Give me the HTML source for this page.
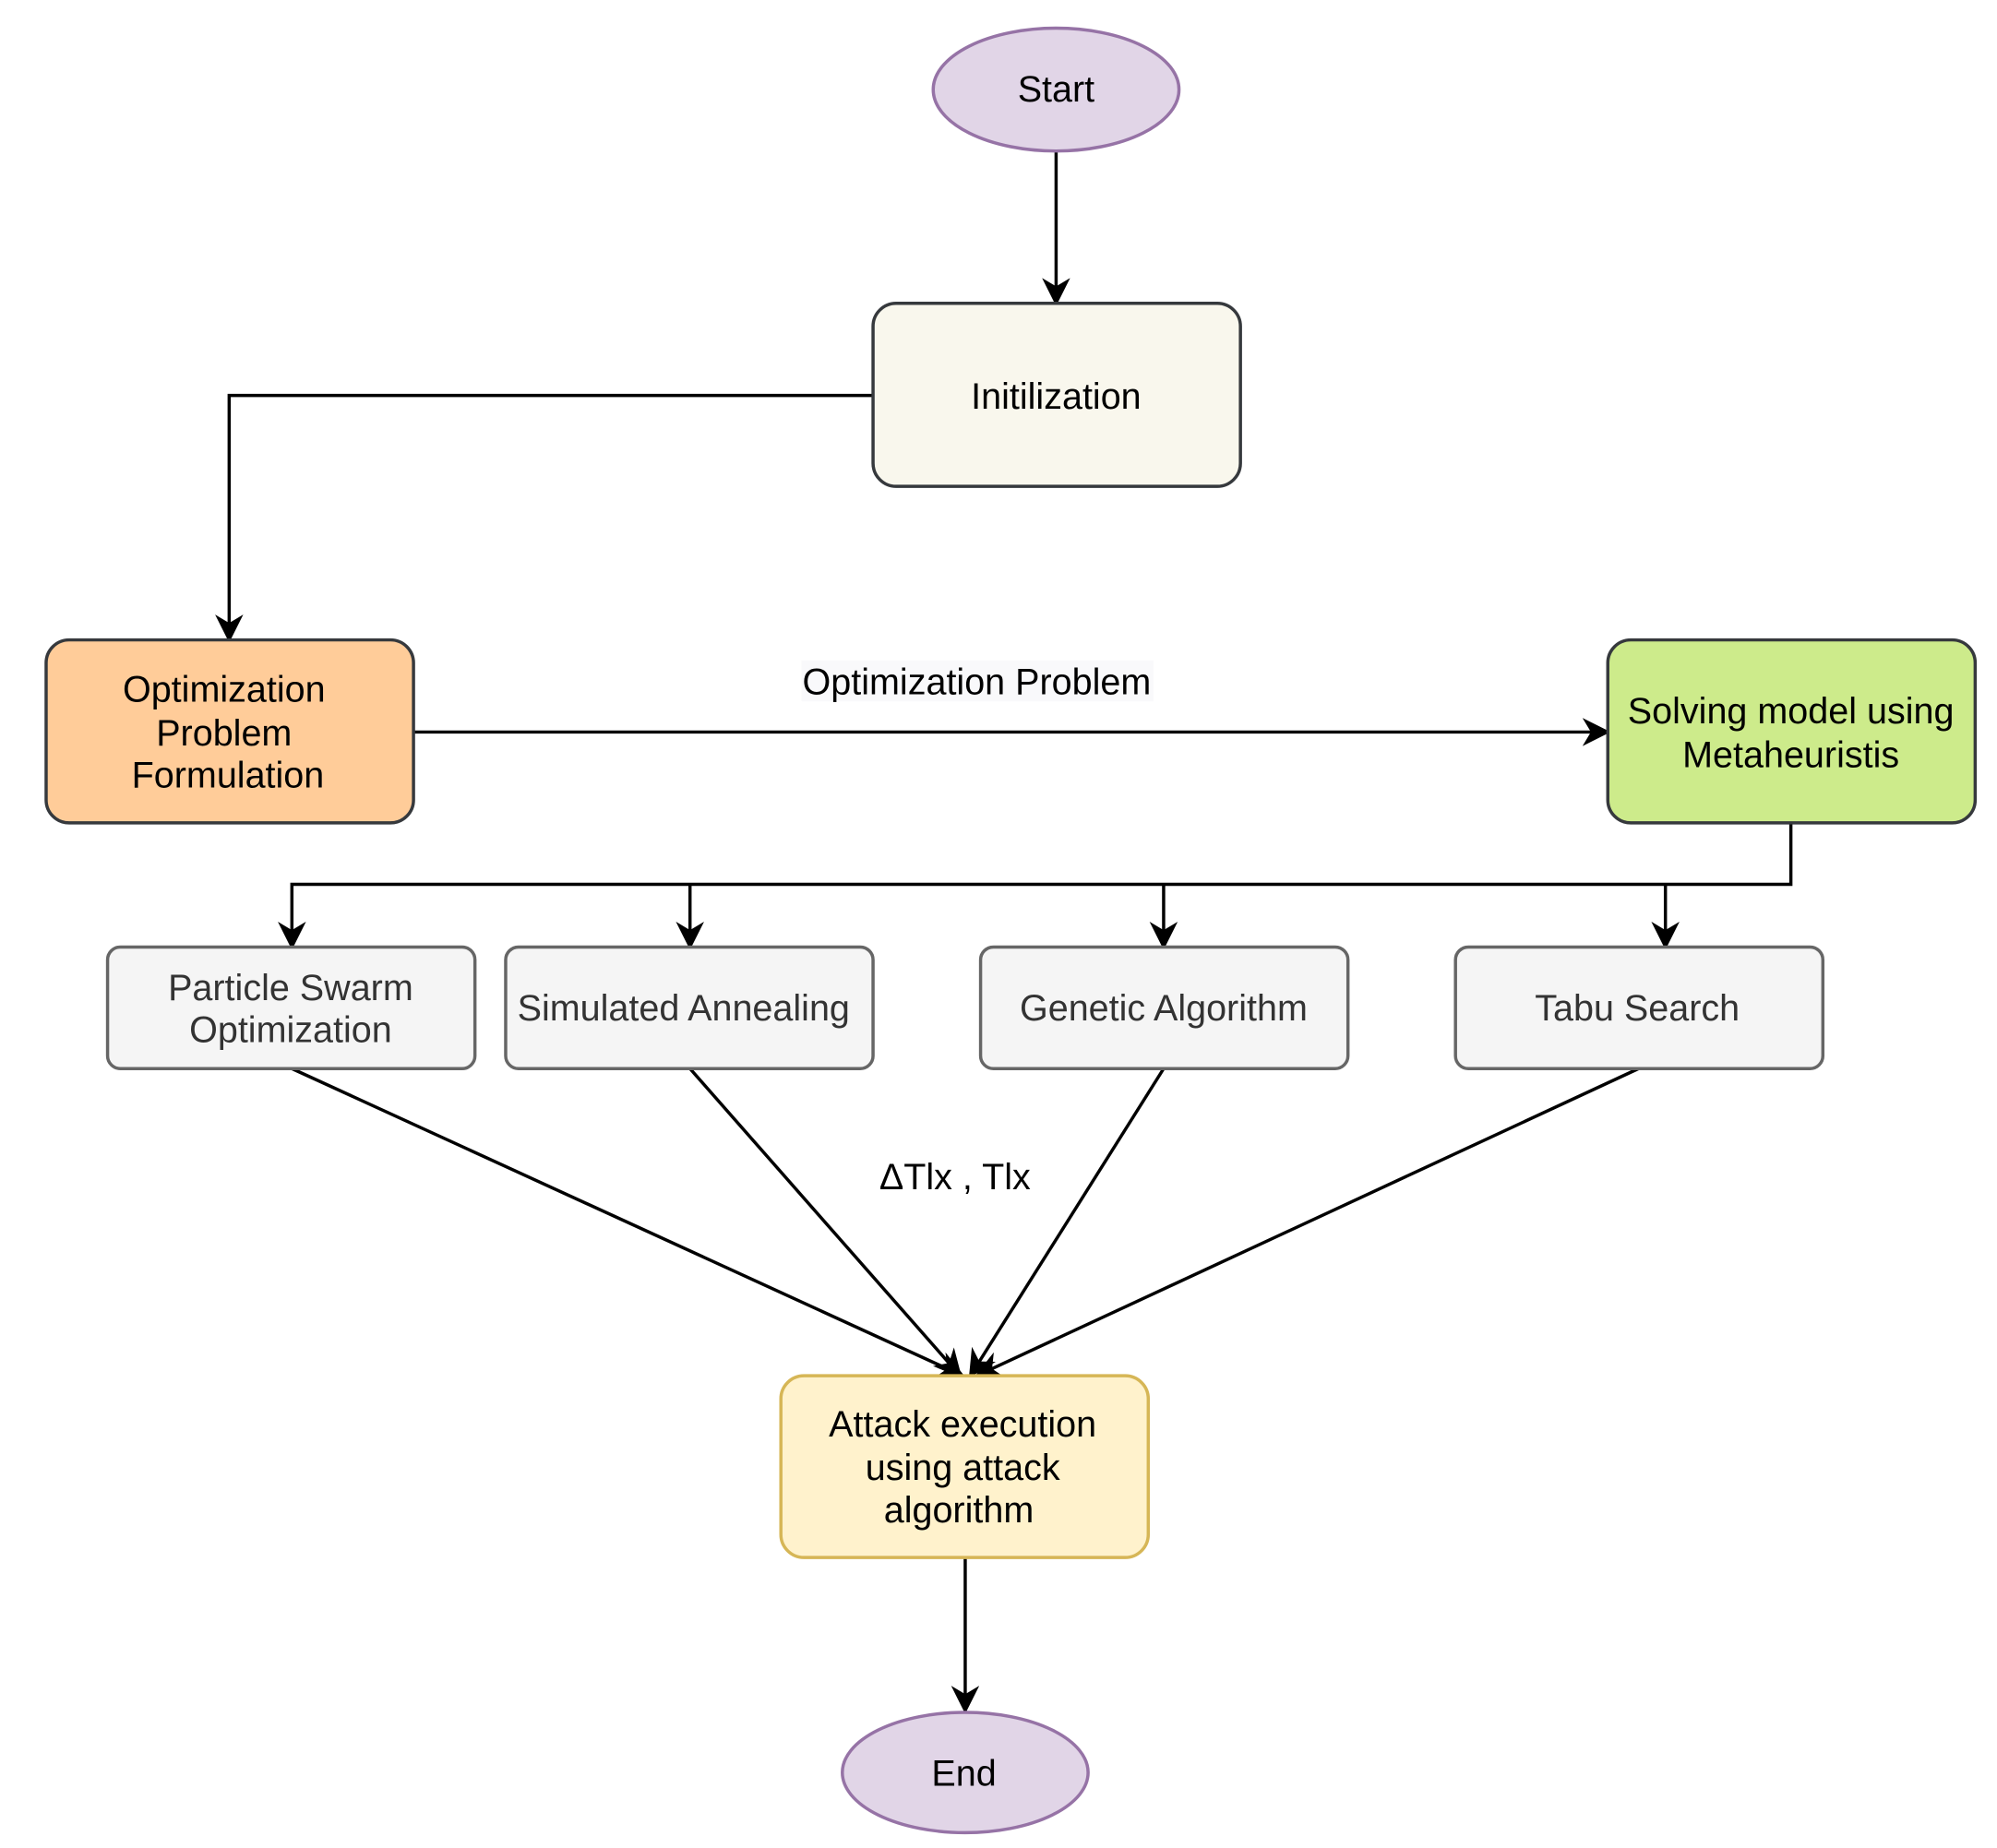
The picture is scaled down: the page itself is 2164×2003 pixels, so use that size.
<!DOCTYPE html>
<html><head><meta charset="utf-8"><style>
html,body{margin:0;padding:0;background:#fff;}
svg{display:block;}
text{font-family:"Liberation Sans",Arial,sans-serif;font-size:28.5px;text-anchor:middle;dominant-baseline:central;}
</style></head><body>
<svg width="2164" height="2003" viewBox="0 0 1560 1444" xmlns="http://www.w3.org/2000/svg">
<defs>
<marker id="b" viewBox="0 0 10 10" refX="9" refY="5" markerWidth="22" markerHeight="22" markerUnits="userSpaceOnUse" orient="auto">
<path d="M0,0 L10,5 L0,10 L3,5 z" fill="#000"/>
</marker>
</defs>
<g fill="none" stroke="#000" stroke-width="2.5">
<path d="M825,118 V237" marker-end="url(#b)"/>
<path d="M682,309 H179 V500" marker-end="url(#b)"/>
<path d="M323,572 H1256" marker-end="url(#b)"/>
<path d="M1399,643 V691 H228 V740" marker-end="url(#b)"/>
<path d="M539,691 V740" marker-end="url(#b)"/>
<path d="M909,691 V740" marker-end="url(#b)"/>
<path d="M1301,691 V740" marker-end="url(#b)"/>
<path d="M228,835 L752,1075" marker-end="url(#b)"/>
<path d="M539,835 L750,1075" marker-end="url(#b)"/>
<path d="M909,835 L758,1075" marker-end="url(#b)"/>
<path d="M1280,835 L763,1075" marker-end="url(#b)"/>
<path d="M754,1217 V1337" marker-end="url(#b)"/>
</g>
<ellipse cx="825" cy="70" rx="96" ry="48" fill="#e1d5e7" stroke="#9673a6" stroke-width="2.5"/>
<text x="825" y="70">Start</text>
<rect x="682" y="237" width="287" height="143" rx="18" fill="#f9f7ed" stroke="#36393d" stroke-width="2.5"/>
<text x="825" y="310">Initilization</text>
<rect x="36" y="500" width="287" height="143" rx="18" fill="#ffcc99" stroke="#36393d" stroke-width="2.5"/>
<text x="175" y="539">Optimization</text><text x="175" y="573">Problem</text><text x="178" y="606">Formulation</text>
<rect x="626" y="516" width="275" height="32" fill="#f9f9fb"/>
<text x="763" y="533">Optimization Problem</text>
<rect x="1256" y="500" width="287" height="143" rx="18" fill="#cdeb8b" stroke="#36393d" stroke-width="2.5"/>
<text x="1399" y="556">Solving model using</text><text x="1399" y="590">Metaheuristis</text>
<g fill="#f5f5f5" stroke="#666" stroke-width="2.5">
<rect x="84" y="740" width="287" height="95" rx="10"/>
<rect x="395" y="740" width="287" height="95" rx="10"/>
<rect x="766" y="740" width="287" height="95" rx="10"/>
<rect x="1137" y="740" width="287" height="95" rx="10"/>
</g>
<g fill="#333">
<text x="227" y="772">Particle Swarm</text><text x="227" y="805">Optimization</text>
<text x="534" y="788">Simulated Annealing</text>
<text x="909" y="788">Genetic Algorithm</text>
<text x="1279" y="788">Tabu Search</text>
</g>
<text x="746" y="920">ΔTlx , Tlx</text>
<rect x="610" y="1075" width="287" height="142" rx="18" fill="#fff2cc" stroke="#d6b656" stroke-width="2.5"/>
<text x="752" y="1113">Attack execution</text><text x="752" y="1147">using attack</text><text x="749" y="1180">algorithm</text>
<ellipse cx="754" cy="1385" rx="96" ry="47" fill="#e1d5e7" stroke="#9673a6" stroke-width="2.5"/>
<text x="753" y="1386">End</text>
</svg>
</body></html>
